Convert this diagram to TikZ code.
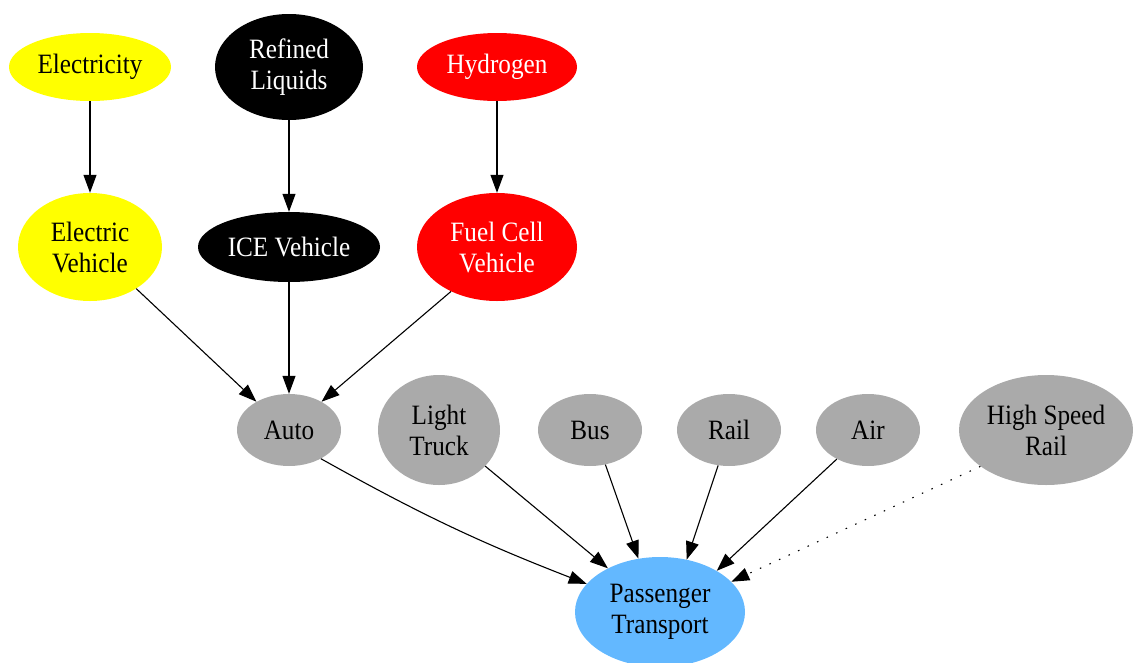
\documentclass[tikz,border=0pt]{standalone}
\usepackage{fontspec}
\newfontfamily\gvfont[FakeStretch=0.9]{Liberation Serif}
\usetikzlibrary{shapes.geometric,arrows.meta}
\definecolor{gvgray}{RGB}{170,170,170}
\definecolor{gvblue}{RGB}{99,184,255}
\definecolor{gvyellow}{RGB}{255,255,0}
\definecolor{gvred}{RGB}{255,0,0}
\tikzset{
  gv/.style={ellipse, inner sep=0pt, align=center, font={\gvfont\fontsize{28}{31}\selectfont}},
  yel/.style={gv, fill=gvyellow, text=black},
  blk/.style={gv, fill=black, text=white},
  rd/.style={gv, fill=gvred, text=white},
  gr/.style={gv, fill=gvgray, text=black},
  bl/.style={gv, fill=gvblue, text=black},
  edge/.style={line width=1.1pt, -{Triangle[length=18pt,width=13pt]}},
  dotedge/.style={edge, dash pattern=on 1.5pt off 9pt}
}
\begin{document}
\begin{tikzpicture}[x=1pt,y=-1pt]
\useasboundingbox (0,0) rectangle (1133,662);
\node[yel, minimum width=162pt, minimum height=68pt] (elec) at (90,67) {Electricity};
\node[blk, minimum width=148pt, minimum height=106pt] (ref) at (289,67) {Refined\\Liquids};
\node[rd, minimum width=160pt, minimum height=68pt] (hyd) at (497,67) {Hydrogen};
\node[yel, minimum width=144pt, minimum height=108pt] (ev) at (90,247) {Electric\\Vehicle};
\node[blk, minimum width=182pt, minimum height=70pt] (ice) at (289,247) {ICE Vehicle};
\node[rd, minimum width=160pt, minimum height=108pt] (fcv) at (497,247) {Fuel Cell\\Vehicle};
\node[gr, minimum width=104pt, minimum height=72pt] (auto) at (289,430) {Auto};
\node[gr, minimum width=122pt, minimum height=110pt] (lt) at (439,430) {Light\\Truck};
\node[gr, minimum width=104pt, minimum height=72pt] (bus) at (590,430) {Bus};
\node[gr, minimum width=104pt, minimum height=72pt] (rail) at (729,430) {Rail};
\node[gr, minimum width=104pt, minimum height=72pt] (air) at (868,430) {Air};
\node[gr, minimum width=174pt, minimum height=110pt] (hsr) at (1046,430) {High Speed\\Rail};
\node[bl, minimum width=170pt, minimum height=110pt] (pt) at (660,612) {Passenger\\Transport};
\draw[edge] (elec) -- (ev);
\draw[edge] (ref) -- (ice);
\draw[edge] (hyd) -- (fcv);
\draw[edge] (ev.-42) -- (auto.139);
\draw[edge] (ice) -- (auto);
\draw[edge] (fcv.-136) -- (auto.41);
\draw[edge] (auto.-42) to[bend right=4] (pt.159);
\draw[edge] (lt.-38) -- (pt.140);
\draw[edge] (bus.-66) -- (pt.112);
\draw[edge] (rail.-107) -- (pt.63);
\draw[edge] (air.-137) -- (pt.36);
\draw[dotedge] (hsr.-151) -- (pt.23);
\end{tikzpicture}
\end{document}
